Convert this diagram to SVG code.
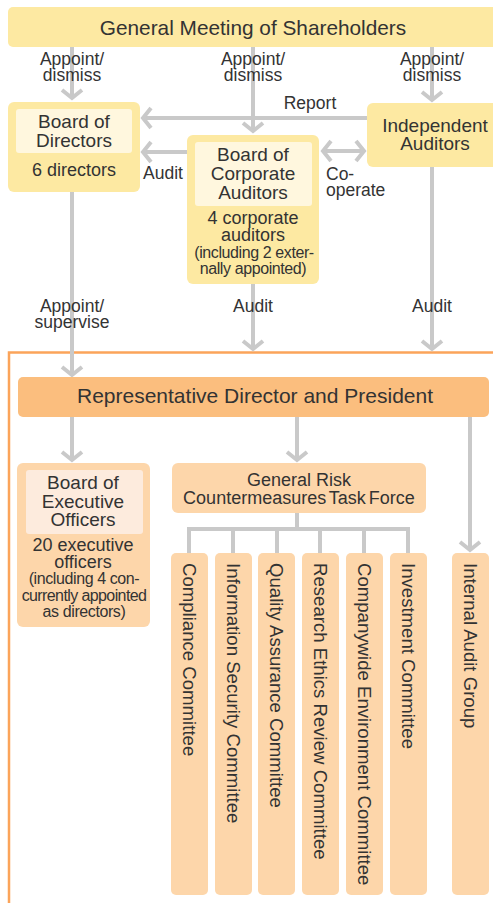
<svg xmlns="http://www.w3.org/2000/svg" width="493" height="903" viewBox="0 0 493 903">
  <style>
    text { font-family: "Liberation Sans", Arial, sans-serif; fill: #333333; }
    .c { text-anchor: middle; }
    .title { font-size: 20.8px; }
    .pres { font-size: 21px; }
    .head { font-size: 19px; }
    .sub { font-size: 18px; }
    .note { font-size: 16px; letter-spacing: -0.4px; }
    .lbl { font-size: 17.5px; }
    .vert { font-size: 18.6px; }
    .yel { fill: #fde9a2; }
    .yel-in { fill: #fff7de; }
    .org { fill: #fbbe7e; }
    .pale { fill: #fdd6aa; }
    .pale-in { fill: #fdebdd; }
    .ln { stroke: #c9c9c9; stroke-width: 4; fill: none; }
    .arr { marker-end: url(#chev); }
    .frame { stroke: #fba45a; stroke-width: 2.5; fill: none; }
  </style>
  <defs>
    <marker id="chev" viewBox="-12 -12 24 24" markerWidth="24" markerHeight="24" markerUnits="userSpaceOnUse" refX="0" refY="0" orient="auto-start-reverse">
      <path d="M-8,-10 L0,0 L-8,10" stroke="#c9c9c9" stroke-width="4" fill="none"/>
    </marker>
  </defs>

  <!-- frame around the executive side -->
  <path class="frame" d="M9,905 V352.5 H497"/>

  <!-- connectors -->
  <g id="connectors">
    <path class="ln arr" d="M72,47 V98"/>
    <path class="ln arr" d="M253,47 V131"/>
    <path class="ln arr" d="M432,47 V100"/>
    <path class="ln arr" d="M367,118 H143"/>
    <path class="ln arr" d="M187,152 H143"/>
    <path class="ln arr" d="M323,151 H364" marker-start="url(#chev)"/>
    <path class="ln arr" d="M72,192 V375"/>
    <path class="ln arr" d="M253,284 V349"/>
    <path class="ln arr" d="M432,167 V349"/>
    <path class="ln arr" d="M72,417 V460"/>
    <path class="ln arr" d="M297,417 V460"/>
    <path class="ln arr" d="M470,417 V550"/>
    <path class="ln" d="M297,513 V529"/>
    <path class="ln" d="M189,555 V529 H408 V555"/>
    <path class="ln" d="M233,529 V555 M277,529 V555 M320,529 V555 M364,529 V555"/>
    <!-- connector labels -->
    <text class="lbl c" x="72" y="64.5">Appoint/</text>
    <text class="lbl c" x="72" y="81">dismiss</text>
    <text class="lbl c" x="253" y="64.5">Appoint/</text>
    <text class="lbl c" x="253" y="81">dismiss</text>
    <text class="lbl c" x="432" y="64.5">Appoint/</text>
    <text class="lbl c" x="432" y="81">dismiss</text>
    <text class="lbl c" x="310" y="109">Report</text>
    <text class="lbl c" x="163" y="179">Audit</text>
    <text class="lbl" x="326" y="180">Co-</text>
    <text class="lbl" x="326" y="196">operate</text>
    <text class="lbl c" x="72" y="311.5">Appoint/</text>
    <text class="lbl c" x="72" y="328">supervise</text>
    <text class="lbl c" x="253" y="312">Audit</text>
    <text class="lbl c" x="432" y="312">Audit</text>
  </g>

  <g id="general-meeting">
    <rect class="yel" x="8" y="7" width="500" height="40" rx="5"/>
    <text class="title c" x="253" y="35">General Meeting of Shareholders</text>
  </g>

  <g id="board-of-directors">
    <rect class="yel" x="8" y="102" width="132" height="90" rx="6"/>
    <rect class="yel-in" x="16" y="109" width="116" height="44" rx="3"/>
    <text class="head c" x="74" y="128">Board of</text>
    <text class="head c" x="74" y="147">Directors</text>
    <text class="sub c" x="74" y="176">6 directors</text>
  </g>

  <g id="independent-auditors">
    <rect class="yel" x="367" y="103" width="140" height="64" rx="6"/>
    <text class="head c" x="435" y="132">Independent</text>
    <text class="head c" x="435" y="150">Auditors</text>
  </g>

  <g id="board-of-corporate-auditors">
    <rect class="yel" x="187" y="135" width="132" height="149" rx="6"/>
    <rect class="yel-in" x="195" y="142" width="117" height="64" rx="3"/>
    <text class="head c" x="253" y="161">Board of</text>
    <text class="head c" x="253" y="180">Corporate</text>
    <text class="head c" x="253" y="199">Auditors</text>
    <text class="sub c" x="253" y="224">4 corporate</text>
    <text class="sub c" x="253" y="241">auditors</text>
    <text class="note c" x="254" y="258">(including 2 exter-</text>
    <text class="note c" x="253" y="274">nally appointed)</text>
  </g>

  <g id="president">
    <rect class="org" x="18" y="377" width="471" height="40" rx="5"/>
    <text class="pres c" x="255" y="403">Representative Director and President</text>
  </g>

  <g id="board-of-executive-officers">
    <rect class="pale" x="17" y="463" width="133" height="164" rx="6"/>
    <rect class="pale-in" x="26" y="470" width="117" height="64" rx="3"/>
    <text class="head c" x="83" y="489">Board of</text>
    <text class="head c" x="83" y="508">Executive</text>
    <text class="head c" x="83" y="526">Officers</text>
    <text class="sub c" x="83" y="551">20 executive</text>
    <text class="sub c" x="83" y="568">officers</text>
    <text class="note c" x="84" y="584">(including 4 con-</text>
    <text class="note c" x="84" y="601" style="letter-spacing:-0.6px">currently appointed</text>
    <text class="note c" x="84" y="617">as directors)</text>
  </g>

  <g id="risk-task-force">
    <rect class="pale" x="172" y="463" width="254" height="50" rx="6"/>
    <text class="sub c" x="299" y="486">General Risk</text>
    <text class="sub c" x="299" y="504" style="word-spacing:-2px">Countermeasures Task Force</text>
  </g>

  <g id="compliance-committee">
    <rect class="pale" x="171" y="553" width="37" height="342" rx="5"/>
    <text class="vert" transform="translate(183,563) rotate(90)">Compliance Committee</text>
  </g>
  <g id="information-security-committee">
    <rect class="pale" x="215" y="553" width="37" height="342" rx="5"/>
    <text class="vert" transform="translate(227,563) rotate(90)">Information Security Committee</text>
  </g>
  <g id="quality-assurance-committee">
    <rect class="pale" x="258" y="553" width="37" height="342" rx="5"/>
    <text class="vert" transform="translate(270,563) rotate(90)">Quality Assurance Committee</text>
  </g>
  <g id="research-ethics-review-committee">
    <rect class="pale" x="302" y="553" width="37" height="342" rx="5"/>
    <text class="vert" transform="translate(314,563) rotate(90)">Research Ethics Review Committee</text>
  </g>
  <g id="companywide-environment-committee">
    <rect class="pale" x="346" y="553" width="37" height="342" rx="5"/>
    <text class="vert" transform="translate(358,563) rotate(90)">Companywide Environment Committee</text>
  </g>
  <g id="investment-committee">
    <rect class="pale" x="390" y="553" width="37" height="342" rx="5"/>
    <text class="vert" transform="translate(402,563) rotate(90)">Investment Committee</text>
  </g>
  <g id="internal-audit-group">
    <rect class="pale" x="452" y="553" width="37" height="342" rx="5"/>
    <text class="vert" transform="translate(464,563) rotate(90)">Internal Audit Group</text>
  </g>
</svg>
